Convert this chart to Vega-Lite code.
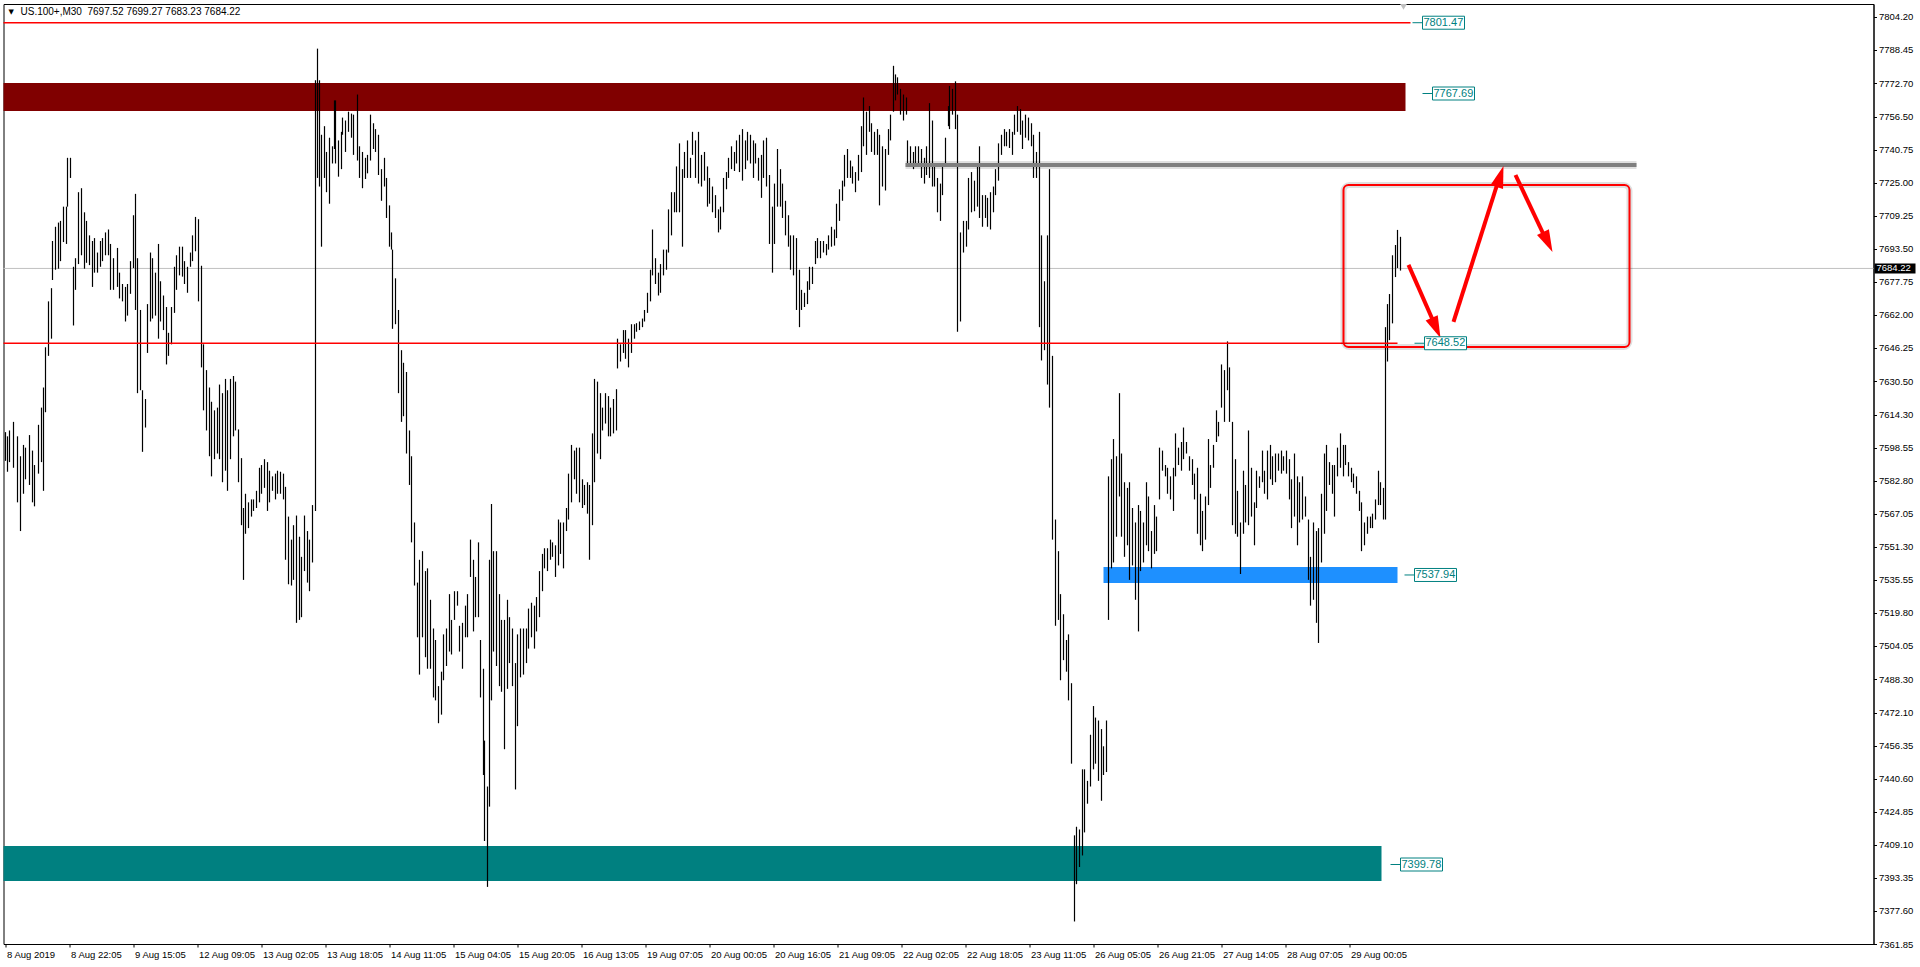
{
"$schema":"https://vega.github.io/schema/vega-lite/v6.json",
"width":1870,"height":940,
"autosize":{"type":"none"},
"padding":{"left":3.5,"top":4,"right":46.5,"bottom":23},
"background":"white",
"config":{"view":{"stroke":"#000000","strokeWidth":1},"font":"Liberation Sans",
 "axis":{"labelOverlap":false,"labelFlush":false,"grid":false,"title":null,"labelFont":"Liberation Sans","labelFontSize":9.5,"labelColor":"#000000","tickColor":"#000000","tickSize":3,"domainColor":"#000000","tickCount":200},
 "axisY":{"labelOverlap":false,"labelPadding":2},
 "axisX":{"labelOverlap":false,"labelAlign":"left","labelBaseline":"top","labelPadding":2,"labelOffset":1}},
"datasets":{
"bars":[
{"i":0,"h":7606.1,"l":7592.4},{"i":1.1,"h":7604.1,"l":7587.2},{"i":2.4,"h":7606.9,"l":7591.8},{"i":4.2,"h":7611.0,"l":7589.1},{"i":6.0,"h":7604.1,"l":7572.6},{"i":7.8,"h":7594.6,"l":7558.9},{"i":9.1,"h":7600.0,"l":7576.7},{"i":10.4,"h":7598.7,"l":7583.6},{"i":12.2,"h":7604.7,"l":7580.9},{"i":13.6,"h":7597.3,"l":7572.6},{"i":14.9,"h":7590.4,"l":7570.7},{"i":16.7,"h":7609.6,"l":7586.3},{"i":18.0,"h":7617.8,"l":7591.8},{"i":19.4,"h":7627.4,"l":7578.1},{"i":20.3,"h":7646.6,"l":7615.6},{"i":21.6,"h":7668.5,"l":7642.5},{"i":23.0,"h":7674.8,"l":7650.7},{"i":23.8,"h":7697.3,"l":7678.7},{"i":25.2,"h":7704.1,"l":7683.6},{"i":26.5,"h":7706.1,"l":7684.1},{"i":27.9,"h":7706.9,"l":7687.7},{"i":29.2,"h":7713.7,"l":7696.8},{"i":30.5,"h":7713.7,"l":7695.9},{"i":31.4,"h":7737.0,"l":7713.7},{"i":32.8,"h":7737.0,"l":7727.4},{"i":34.3,"h":7685.0,"l":7657.0},{"i":35.4,"h":7689.1,"l":7674.0},{"i":36.8,"h":7720.6,"l":7686.3},{"i":38.1,"h":7722.5,"l":7690.5},{"i":39.5,"h":7711.0,"l":7684.1},{"i":40.8,"h":7706.9,"l":7686.9},{"i":42.1,"h":7700.0,"l":7685.8},{"i":43.5,"h":7697.3,"l":7675.4},{"i":44.8,"h":7698.7,"l":7682.2},{"i":46.2,"h":7691.8,"l":7682.2},{"i":47.5,"h":7697.3,"l":7685.0},{"i":48.8,"h":7698.7,"l":7687.7},{"i":50.2,"h":7701.4,"l":7690.5},{"i":51.5,"h":7702.8,"l":7690.5},{"i":52.9,"h":7695.9,"l":7674.0},{"i":54.2,"h":7689.1,"l":7674.0},{"i":56.0,"h":7694.0,"l":7675.4},{"i":57.3,"h":7682.2,"l":7669.9},{"i":58.7,"h":7676.8,"l":7668.5},{"i":60.0,"h":7675.4,"l":7658.9},{"i":61.3,"h":7676.8,"l":7661.7},{"i":62.7,"h":7687.7,"l":7672.1},{"i":64.0,"h":7709.6,"l":7684.4},{"i":65.1,"h":7719.8,"l":7664.4},{"i":66.3,"h":7689.1,"l":7624.7},{"i":67.6,"h":7664.4,"l":7626.1},{"i":68.9,"h":7626.1,"l":7596.7},{"i":70.3,"h":7621.9,"l":7608.3},{"i":71.2,"h":7667.2,"l":7643.9},{"i":72.5,"h":7691.8,"l":7658.9},{"i":73.8,"h":7689.1,"l":7660.3},{"i":75.2,"h":7682.2,"l":7661.7},{"i":76.5,"h":7695.9,"l":7650.7},{"i":77.9,"h":7678.1,"l":7658.9},{"i":79.2,"h":7671.3,"l":7654.8},{"i":80.5,"h":7665.8,"l":7638.4},{"i":81.9,"h":7653.5,"l":7642.5},{"i":83.2,"h":7665.8,"l":7648.0},{"i":84.6,"h":7685.0,"l":7663.0},{"i":85.9,"h":7690.5,"l":7674.0},{"i":87.2,"h":7694.6,"l":7680.9},{"i":88.6,"h":7694.6,"l":7680.3},{"i":89.9,"h":7687.7,"l":7676.8},{"i":91.3,"h":7685.0,"l":7672.6},{"i":92.6,"h":7691.8,"l":7685.0},{"i":93.9,"h":7700.0,"l":7687.7},{"i":95.3,"h":7708.8,"l":7692.4},{"i":96.6,"h":7707.7,"l":7668.5},{"i":98.0,"h":7685.5,"l":7637.0},{"i":99.3,"h":7648.0,"l":7616.5},{"i":100.6,"h":7635.7,"l":7606.9},{"i":102.0,"h":7627.4,"l":7594.6},{"i":103.3,"h":7620.6,"l":7585.0},{"i":104.6,"h":7616.5,"l":7593.2},{"i":106.0,"h":7617.8,"l":7595.9},{"i":107.3,"h":7628.8,"l":7593.2},{"i":108.7,"h":7624.7,"l":7582.2},{"i":110.0,"h":7631.5,"l":7587.7},{"i":111.3,"h":7626.1,"l":7578.1},{"i":112.7,"h":7631.5,"l":7593.2},{"i":114.0,"h":7632.9,"l":7604.1},{"i":115.4,"h":7630.2,"l":7606.9},{"i":116.7,"h":7607.4,"l":7582.2},{"i":118.0,"h":7593.7,"l":7561.7},{"i":119.2,"h":7569.9,"l":7535.6},{"i":120.3,"h":7576.7,"l":7557.6},{"i":121.6,"h":7572.6,"l":7560.3},{"i":123.0,"h":7574.0,"l":7565.8},{"i":124.3,"h":7574.0,"l":7568.5},{"i":125.6,"h":7578.1,"l":7569.9},{"i":127.0,"h":7589.1,"l":7572.6},{"i":128.3,"h":7590.4,"l":7576.7},{"i":129.6,"h":7593.2,"l":7579.5},{"i":131.0,"h":7591.8,"l":7568.5},{"i":132.3,"h":7587.7,"l":7572.6},{"i":133.7,"h":7585.0,"l":7578.1},{"i":135.0,"h":7586.3,"l":7574.0},{"i":136.3,"h":7587.7,"l":7576.7},{"i":137.7,"h":7587.2,"l":7576.7},{"i":139.0,"h":7586.3,"l":7574.0},{"i":140.4,"h":7580.0,"l":7545.2},{"i":141.7,"h":7565.8,"l":7533.5},{"i":143.0,"h":7554.8,"l":7532.9},{"i":144.4,"h":7561.7,"l":7535.6},{"i":145.7,"h":7566.3,"l":7515.1},{"i":147.1,"h":7556.2,"l":7516.5},{"i":148.4,"h":7546.6,"l":7517.8},{"i":149.7,"h":7566.3,"l":7539.8},{"i":151.1,"h":7558.9,"l":7534.3},{"i":152.4,"h":7554.8,"l":7530.2},{"i":153.8,"h":7571.3,"l":7543.9},{"i":155.1,"h":7774.0,"l":7568.5},{"i":156.2,"h":7789.1,"l":7727.4},{"i":157.3,"h":7774.0,"l":7723.3},{"i":158.2,"h":7748.0,"l":7694.6},{"i":159.6,"h":7752.1,"l":7727.4},{"i":160.9,"h":7739.8,"l":7720.6},{"i":162.2,"h":7746.6,"l":7715.1},{"i":163.6,"h":7742.5,"l":7734.3},{"i":164.5,"h":7764.4,"l":7741.2},{"i":165.4,"h":7764.4,"l":7734.3},{"i":166.7,"h":7745.3,"l":7728.0},{"i":168.0,"h":7749.4,"l":7731.6},{"i":168.9,"h":7756.2,"l":7748.0},{"i":170.3,"h":7754.8,"l":7739.8},{"i":171.6,"h":7759.0,"l":7749.4},{"i":173.0,"h":7758.1,"l":7746.6},{"i":174.3,"h":7757.6,"l":7738.4},{"i":176.1,"h":7767.2,"l":7735.7},{"i":177.4,"h":7742.5,"l":7727.4},{"i":178.8,"h":7739.8,"l":7722.5},{"i":180.1,"h":7737.0,"l":7726.9},{"i":181.4,"h":7738.4,"l":7729.6},{"i":182.8,"h":7757.6,"l":7735.7},{"i":184.1,"h":7753.5,"l":7741.2},{"i":185.4,"h":7750.7,"l":7739.8},{"i":186.8,"h":7748.0,"l":7728.8},{"i":188.1,"h":7731.6,"l":7716.5},{"i":189.5,"h":7737.0,"l":7723.3},{"i":190.8,"h":7727.4,"l":7708.3},{"i":192.1,"h":7714.3,"l":7694.6},{"i":193.0,"h":7701.4,"l":7693.2},{"i":193.9,"h":7693.2,"l":7655.4},{"i":195.3,"h":7679.5,"l":7657.6},{"i":196.6,"h":7664.4,"l":7624.7},{"i":198.0,"h":7645.2,"l":7611.0},{"i":199.3,"h":7639.2,"l":7613.7},{"i":200.6,"h":7634.8,"l":7595.9},{"i":202.0,"h":7606.9,"l":7580.9},{"i":203.3,"h":7594.6,"l":7553.5},{"i":204.6,"h":7563.0,"l":7532.9},{"i":206.0,"h":7534.3,"l":7508.2},{"i":207.3,"h":7545.2,"l":7490.4},{"i":208.7,"h":7549.3,"l":7508.2},{"i":210.0,"h":7539.8,"l":7498.7},{"i":211.3,"h":7541.1,"l":7493.2},{"i":212.7,"h":7526.1,"l":7493.2},{"i":214.0,"h":7512.4,"l":7479.5},{"i":215.4,"h":7506.9,"l":7478.1},{"i":216.7,"h":7484.9,"l":7467.2},{"i":218.0,"h":7491.8,"l":7471.3},{"i":219.4,"h":7509.6,"l":7487.7},{"i":220.7,"h":7512.4,"l":7494.5},{"i":222.1,"h":7528.8,"l":7501.4},{"i":223.4,"h":7516.5,"l":7500.0},{"i":224.7,"h":7530.2,"l":7516.5},{"i":226.1,"h":7530.2,"l":7523.3},{"i":227.4,"h":7513.7,"l":7501.4},{"i":228.8,"h":7515.1,"l":7493.2},{"i":230.1,"h":7523.3,"l":7508.2},{"i":231.4,"h":7528.8,"l":7508.2},{"i":232.8,"h":7554.8,"l":7537.0},{"i":234.1,"h":7545.2,"l":7511.0},{"i":235.4,"h":7537.0,"l":7517.8},{"i":236.8,"h":7553.5,"l":7517.8},{"i":237.7,"h":7506.9,"l":7479.5},{"i":239.0,"h":7493.2,"l":7442.5},{"i":239.9,"h":7458.9,"l":7411.0},{"i":241.3,"h":7437.0,"l":7389.1},{"i":242.1,"h":7545.2,"l":7427.4},{"i":243.3,"h":7571.8,"l":7478.1},{"i":244.4,"h":7549.3,"l":7501.4},{"i":245.7,"h":7549.3,"l":7494.5},{"i":247.1,"h":7528.8,"l":7484.9},{"i":248.4,"h":7516.5,"l":7482.2},{"i":249.7,"h":7516.5,"l":7454.8},{"i":251.1,"h":7526.1,"l":7483.6},{"i":252.4,"h":7517.8,"l":7495.9},{"i":253.8,"h":7512.4,"l":7484.9},{"i":255.1,"h":7495.9,"l":7435.6},{"i":256.4,"h":7509.6,"l":7465.8},{"i":257.8,"h":7512.4,"l":7489.1},{"i":259.1,"h":7512.4,"l":7490.4},{"i":260.5,"h":7512.4,"l":7495.9},{"i":261.8,"h":7521.9,"l":7502.8},{"i":263.1,"h":7524.7,"l":7508.2},{"i":264.5,"h":7523.3,"l":7502.8},{"i":265.8,"h":7527.4,"l":7511.0},{"i":267.1,"h":7539.8,"l":7517.8},{"i":268.5,"h":7548.0,"l":7530.2},{"i":269.8,"h":7550.7,"l":7541.1},{"i":271.2,"h":7550.7,"l":7539.8},{"i":272.5,"h":7554.8,"l":7545.2},{"i":273.8,"h":7553.5,"l":7546.6},{"i":275.2,"h":7552.1,"l":7537.0},{"i":276.5,"h":7564.4,"l":7542.5},{"i":277.9,"h":7563.0,"l":7548.0},{"i":279.2,"h":7563.0,"l":7541.1},{"i":280.5,"h":7569.9,"l":7558.9},{"i":281.9,"h":7586.3,"l":7564.4},{"i":283.2,"h":7600.0,"l":7572.6},{"i":284.6,"h":7597.3,"l":7583.6},{"i":285.9,"h":7598.7,"l":7576.7},{"i":287.2,"h":7598.7,"l":7572.6},{"i":288.6,"h":7583.6,"l":7569.9},{"i":289.9,"h":7580.9,"l":7571.3},{"i":291.3,"h":7582.2,"l":7567.2},{"i":292.1,"h":7580.9,"l":7545.2},{"i":293.5,"h":7605.5,"l":7561.7},{"i":294.8,"h":7631.5,"l":7582.2},{"i":296.2,"h":7630.2,"l":7595.9},{"i":297.5,"h":7624.7,"l":7593.2},{"i":298.8,"h":7617.8,"l":7606.9},{"i":300.2,"h":7624.7,"l":7610.2},{"i":301.5,"h":7623.3,"l":7604.1},{"i":302.9,"h":7617.8,"l":7604.1},{"i":304.2,"h":7621.9,"l":7605.5},{"i":305.5,"h":7626.6,"l":7606.9},{"i":306.4,"h":7650.7,"l":7636.5},{"i":307.8,"h":7648.0,"l":7639.8},{"i":309.1,"h":7654.8,"l":7643.9},{"i":310.4,"h":7654.8,"l":7641.1},{"i":311.8,"h":7650.7,"l":7637.0},{"i":313.1,"h":7657.6,"l":7643.9},{"i":314.5,"h":7657.6,"l":7650.7},{"i":315.8,"h":7658.1,"l":7654.0},{"i":317.1,"h":7658.9,"l":7654.8},{"i":318.5,"h":7660.3,"l":7656.2},{"i":319.8,"h":7664.4,"l":7658.9},{"i":321.2,"h":7672.6,"l":7663.0},{"i":322.5,"h":7683.6,"l":7668.5},{"i":323.8,"h":7702.8,"l":7680.9},{"i":325.2,"h":7689.1,"l":7676.8},{"i":326.5,"h":7682.2,"l":7671.3},{"i":327.9,"h":7686.3,"l":7672.6},{"i":329.2,"h":7693.2,"l":7680.9},{"i":330.5,"h":7693.2,"l":7683.6},{"i":331.9,"h":7712.4,"l":7691.8},{"i":333.2,"h":7720.6,"l":7700.0},{"i":334.6,"h":7720.6,"l":7711.0},{"i":335.9,"h":7732.9,"l":7711.0},{"i":337.2,"h":7743.9,"l":7711.0},{"i":338.6,"h":7731.6,"l":7694.6},{"i":339.9,"h":7739.8,"l":7727.4},{"i":341.3,"h":7745.3,"l":7727.4},{"i":342.6,"h":7737.0,"l":7727.4},{"i":343.9,"h":7749.4,"l":7738.4},{"i":345.3,"h":7745.3,"l":7727.4},{"i":346.6,"h":7749.4,"l":7724.7},
{"i":348.4,"h":7738.4,"l":7723.3},{"i":349.7,"h":7739.8,"l":7726.1},{"i":351.1,"h":7732.9,"l":7713.7},{"i":352.4,"h":7727.4,"l":7715.1},{"i":353.8,"h":7723.3,"l":7711.0},{"i":355.1,"h":7719.2,"l":7708.3},{"i":356.5,"h":7712.4,"l":7701.4},{"i":357.8,"h":7713.7,"l":7702.8},{"i":359.2,"h":7727.4,"l":7711.0},{"i":360.5,"h":7730.2,"l":7722.0},{"i":361.9,"h":7737.0,"l":7727.4},{"i":363.2,"h":7742.5,"l":7731.6},{"i":364.6,"h":7739.8,"l":7730.7},{"i":365.9,"h":7745.3,"l":7734.3},{"i":367.3,"h":7748.0,"l":7730.2},{"i":368.6,"h":7750.7,"l":7726.1},{"i":370.0,"h":7745.3,"l":7731.6},{"i":371.3,"h":7749.4,"l":7735.7},{"i":372.7,"h":7748.0,"l":7734.3},{"i":374.0,"h":7745.3,"l":7727.4},{"i":375.4,"h":7743.9,"l":7734.3},{"i":376.7,"h":7737.0,"l":7726.1},{"i":378.1,"h":7738.4,"l":7717.9},{"i":379.4,"h":7745.3,"l":7727.4},{"i":380.8,"h":7746.6,"l":7723.3},{"i":382.1,"h":7728.8,"l":7695.9},{"i":383.5,"h":7713.7,"l":7682.2},{"i":384.8,"h":7724.7,"l":7695.9},{"i":386.2,"h":7741.2,"l":7713.7},{"i":387.5,"h":7731.6,"l":7713.7},{"i":388.9,"h":7724.7,"l":7708.3},{"i":390.2,"h":7716.5,"l":7700.0},{"i":391.6,"h":7709.6,"l":7694.6},{"i":392.9,"h":7700.0,"l":7683.6},{"i":394.3,"h":7700.0,"l":7680.9},{"i":395.6,"h":7698.7,"l":7664.4},{"i":397.0,"h":7683.6,"l":7656.2},{"i":398.3,"h":7674.0,"l":7664.4},{"i":399.7,"h":7672.6,"l":7665.8},{"i":401.0,"h":7678.1,"l":7667.2},{"i":402.4,"h":7685.0,"l":7674.0},{"i":403.7,"h":7685.0,"l":7676.8},{"i":405.1,"h":7697.3,"l":7686.3},{"i":406.4,"h":7698.7,"l":7689.1},{"i":407.8,"h":7697.3,"l":7689.1},{"i":409.1,"h":7697.3,"l":7691.8},{"i":410.5,"h":7695.9,"l":7690.5},{"i":411.8,"h":7700.0,"l":7693.2},{"i":413.1,"h":7704.1,"l":7694.6},{"i":414.5,"h":7702.8,"l":7695.1},{"i":415.8,"h":7715.1,"l":7698.7},{"i":417.2,"h":7722.0,"l":7706.9},{"i":418.5,"h":7726.1,"l":7716.5},{"i":419.9,"h":7738.4,"l":7723.3},{"i":421.2,"h":7741.2,"l":7727.4},{"i":422.6,"h":7735.7,"l":7727.4},{"i":423.9,"h":7732.9,"l":7724.7},{"i":425.3,"h":7730.2,"l":7720.6},{"i":426.6,"h":7738.4,"l":7726.1},{"i":428.0,"h":7752.1,"l":7730.2},{"i":429.3,"h":7765.8,"l":7742.5},{"i":430.7,"h":7759.0,"l":7738.4},{"i":432.0,"h":7761.7,"l":7749.4},{"i":433.4,"h":7753.5,"l":7739.8},{"i":434.7,"h":7749.4,"l":7738.4},{"i":436.1,"h":7750.7,"l":7738.4},{"i":437.4,"h":7748.0,"l":7714.3},{"i":438.8,"h":7742.5,"l":7723.3},{"i":440.1,"h":7741.2,"l":7721.4},{"i":441.5,"h":7750.7,"l":7738.4},{"i":442.8,"h":7757.6,"l":7745.3},{"i":444.2,"h":7780.9,"l":7759.0},{"i":445.1,"h":7776.8,"l":7764.4},{"i":446.4,"h":7775.4,"l":7767.2},{"i":447.8,"h":7769.9,"l":7757.6},{"i":449.1,"h":7767.2,"l":7754.8},{"i":450.5,"h":7765.8,"l":7757.6},{"i":451.4,"h":7745.3,"l":7734.3},{"i":452.7,"h":7742.5,"l":7734.3},{"i":454.1,"h":7739.8,"l":7731.6},{"i":455.4,"h":7742.5,"l":7734.3},{"i":456.8,"h":7742.5,"l":7732.9},{"i":458.1,"h":7741.2,"l":7727.4},{"i":459.5,"h":7737.0,"l":7724.7},{"i":460.8,"h":7742.5,"l":7728.8},{"i":462.2,"h":7763.1,"l":7727.4},{"i":463.5,"h":7754.8,"l":7723.3},{"i":464.9,"h":7734.3,"l":7723.3},{"i":466.2,"h":7727.4,"l":7711.0},{"i":467.6,"h":7724.7,"l":7706.9},{"i":468.9,"h":7734.3,"l":7719.2},{"i":470.3,"h":7746.6,"l":7734.3},{"i":471.6,"h":7761.7,"l":7752.1},{"i":472.5,"h":7771.3,"l":7750.7},{"i":473.9,"h":7769.9,"l":7757.6},{"i":475.2,"h":7773.5,"l":7750.7},{"i":476.5,"h":7757.6,"l":7654.0},{"i":477.9,"h":7701.4,"l":7658.9},{"i":479.2,"h":7706.9,"l":7691.8},{"i":480.6,"h":7706.9,"l":7694.6},{"i":481.9,"h":7727.4,"l":7702.8},{"i":483.3,"h":7730.2,"l":7711.0},{"i":484.6,"h":7726.1,"l":7711.5},{"i":486.0,"h":7732.9,"l":7713.7},{"i":487.3,"h":7742.5,"l":7708.3},{"i":488.7,"h":7719.2,"l":7704.1},{"i":490.0,"h":7719.2,"l":7708.3},{"i":491.4,"h":7717.9,"l":7704.1},{"i":492.7,"h":7720.6,"l":7702.8},{"i":494.1,"h":7723.3,"l":7711.0},{"i":495.4,"h":7731.6,"l":7719.2},{"i":496.8,"h":7743.9,"l":7726.1},{"i":498.1,"h":7748.0,"l":7738.4},{"i":499.5,"h":7750.7,"l":7742.5},{"i":500.8,"h":7749.4,"l":7742.5},{"i":502.2,"h":7750.7,"l":7741.7},{"i":503.5,"h":7749.4,"l":7738.4},{"i":504.9,"h":7757.6,"l":7748.0},{"i":506.2,"h":7761.7,"l":7749.4},{"i":507.6,"h":7760.3,"l":7748.0},{"i":508.9,"h":7754.8,"l":7741.2},{"i":510.3,"h":7757.6,"l":7746.6},{"i":511.6,"h":7756.2,"l":7745.3},{"i":513.0,"h":7753.5,"l":7742.5},{"i":514.3,"h":7748.0,"l":7727.4},{"i":515.7,"h":7739.8,"l":7727.4},{"i":517.0,"h":7749.4,"l":7656.2},{"i":518.4,"h":7700.0,"l":7640.3},{"i":519.7,"h":7678.1,"l":7645.2},{"i":521.1,"h":7700.0,"l":7628.8},{"i":522.4,"h":7731.6,"l":7617.8},{"i":523.8,"h":7642.5,"l":7554.8},{"i":525.1,"h":7564.4,"l":7513.7},{"i":526.5,"h":7549.3,"l":7516.5},{"i":527.8,"h":7528.8,"l":7487.7},{"i":529.2,"h":7519.2,"l":7497.3},{"i":530.5,"h":7506.9,"l":7491.8},{"i":531.9,"h":7509.6,"l":7478.1},{"i":533.2,"h":7486.3,"l":7447.9},{"i":534.5,"h":7413.7,"l":7372.6},{"i":535.9,"h":7417.8,"l":7390.4},{"i":537.2,"h":7416.5,"l":7398.6},{"i":538.6,"h":7445.2,"l":7404.1},{"i":539.9,"h":7445.2,"l":7415.1},{"i":541.3,"h":7439.7,"l":7428.8},{"i":542.6,"h":7461.7,"l":7437.0},{"i":544.0,"h":7475.4,"l":7445.2},{"i":545.3,"h":7469.9,"l":7447.9},{"i":546.7,"h":7468.5,"l":7439.7},{"i":548.0,"h":7464.4,"l":7430.2},{"i":549.4,"h":7456.2,"l":7442.5},{"i":550.7,"h":7468.5,"l":7443.9},{"i":551.6,"h":7585.0,"l":7516.5},{"i":553.0,"h":7593.2,"l":7541.1},{"i":554.3,"h":7602.8,"l":7543.9},{"i":555.7,"h":7594.6,"l":7556.2},{"i":557.0,"h":7624.7,"l":7575.4},{"i":558.4,"h":7595.9,"l":7556.2},{"i":559.7,"h":7582.2,"l":7546.6},{"i":561.1,"h":7579.5,"l":7552.1},{"i":562.4,"h":7582.2,"l":7535.6},{"i":563.8,"h":7569.9,"l":7542.5},{"i":565.1,"h":7563.0,"l":7526.1},{"i":566.5,"h":7571.3,"l":7511.0},{"i":567.8,"h":7568.5,"l":7539.8},{"i":569.2,"h":7563.0,"l":7543.9},{"i":570.5,"h":7582.2,"l":7552.1},{"i":571.9,"h":7575.4,"l":7549.3},{"i":573.2,"h":7558.9,"l":7541.1},{"i":574.6,"h":7571.3,"l":7548.0},{"i":575.9,"h":7565.8,"l":7549.3},{"i":577.3,"h":7598.7,"l":7574.0},{"i":578.6,"h":7597.3,"l":7587.7},{"i":580.0,"h":7590.4,"l":7585.0},{"i":581.3,"h":7589.1,"l":7576.7},{"i":582.7,"h":7585.0,"l":7574.0},{"i":584.0,"h":7589.1,"l":7568.5},{"i":585.4,"h":7605.5,"l":7585.0},{"i":586.7,"h":7598.7,"l":7590.4},{"i":588.1,"h":7601.4,"l":7587.7},{"i":589.4,"h":7608.3,"l":7593.2},{"i":590.8,"h":7601.4,"l":7595.9},{"i":592.1,"h":7594.6,"l":7587.7},{"i":593.5,"h":7593.2,"l":7580.9},{"i":594.8,"h":7586.3,"l":7574.0},{"i":596.2,"h":7589.1,"l":7557.6},{"i":597.5,"h":7576.7,"l":7552.1},{"i":598.9,"h":7568.5,"l":7549.3},{"i":600.2,"h":7575.4,"l":7554.8},{"i":601.5,"h":7602.8,"l":7571.3},{"i":602.9,"h":7590.4,"l":7579.5},{"i":604.2,"h":7600.0,"l":7589.1},{"i":605.6,"h":7616.5,"l":7601.4},{"i":606.9,"h":7611.0,"l":7604.1},{"i":608.3,"h":7638.4,"l":7617.8},{"i":609.6,"h":7635.7,"l":7611.0},{"i":611.0,"h":7649.4,"l":7626.1},{"i":612.3,"h":7637.0,"l":7611.0},{"i":613.7,"h":7611.0,"l":7561.7},{"i":615.0,"h":7593.2,"l":7557.6},{"i":616.4,"h":7578.1,"l":7556.2},{"i":617.7,"h":7563.0,"l":7538.4},{"i":619.1,"h":7587.7,"l":7557.6},{"i":620.4,"h":7580.9,"l":7563.0},{"i":621.8,"h":7606.9,"l":7561.7},{"i":623.1,"h":7589.1,"l":7565.8},{"i":624.5,"h":7572.6,"l":7552.1},{"i":625.8,"h":7587.7,"l":7569.9},{"i":627.2,"h":7585.0,"l":7579.5},{"i":628.5,"h":7597.3,"l":7582.2},{"i":629.9,"h":7587.7,"l":7576.7},{"i":631.2,"h":7597.3,"l":7574.0},{"i":632.6,"h":7600.0,"l":7583.6},{"i":633.9,"h":7594.6,"l":7580.9},{"i":635.3,"h":7595.9,"l":7582.2},{"i":636.6,"h":7595.9,"l":7587.7},{"i":638.0,"h":7597.3,"l":7586.3},{"i":639.3,"h":7594.6,"l":7587.7},{"i":640.7,"h":7597.3,"l":7586.3},{"i":642.0,"h":7593.2,"l":7574.0},{"i":643.4,"h":7583.6,"l":7560.3},{"i":644.7,"h":7595.9,"l":7565.8},{"i":646.1,"h":7585.0,"l":7552.1},{"i":647.4,"h":7582.2,"l":7563.0},{"i":648.8,"h":7585.0,"l":7564.4},{"i":650.1,"h":7575.4,"l":7565.8},{"i":651.5,"h":7564.4,"l":7535.6},{"i":652.8,"h":7546.6,"l":7523.3},{"i":654.2,"h":7563.0,"l":7526.1},{"i":655.5,"h":7558.9,"l":7515.1},{"i":656.9,"h":7560.3,"l":7505.5},{"i":658.2,"h":7576.7,"l":7543.9},{"i":659.6,"h":7595.9,"l":7557.6},{"i":660.9,"h":7600.0,"l":7568.5},{"i":662.2,"h":7591.8,"l":7580.9},{"i":663.6,"h":7590.4,"l":7576.7},{"i":664.9,"h":7590.4,"l":7565.8},{"i":666.3,"h":7598.7,"l":7585.0},{"i":667.6,"h":7605.5,"l":7589.1},{"i":669.0,"h":7600.0,"l":7585.0},{"i":670.3,"h":7600.0,"l":7590.4},{"i":671.7,"h":7591.8,"l":7585.0},{"i":673.0,"h":7589.1,"l":7582.2},{"i":674.4,"h":7586.3,"l":7579.5},{"i":675.7,"h":7585.0,"l":7576.7},{"i":677.1,"h":7578.1,"l":7568.5},{"i":678.4,"h":7572.6,"l":7549.3},{"i":679.8,"h":7563.0,"l":7552.1},{"i":681.1,"h":7565.8,"l":7557.6},{"i":682.5,"h":7565.8,"l":7560.3},{"i":683.8,"h":7567.2,"l":7560.3},{"i":685.2,"h":7574.0,"l":7564.4},{"i":686.5,"h":7587.7,"l":7571.3},{"i":687.9,"h":7582.2,"l":7571.3},{"i":689.2,"h":7579.5,"l":7564.4},{"i":690.1,"h":7656.2,"l":7564.4},{"i":691.0,"h":7667.2,"l":7639.8},{"i":692.4,"h":7672.0,"l":7650.0},{"i":693.7,"h":7690.5,"l":7658.0},{"i":695.1,"h":7695.4,"l":7680.1},{"i":696.4,"h":7702.6,"l":7684.4},{"i":697.7,"h":7699.3,"l":7683.2}
],
"zones":[
{"zone":"supply","i0":-0.75,"i1":700,"lo":7759.35,"hi":7772.7},
{"zone":"support","i0":549,"i1":696,"lo":7534.1,"hi":7541.75},
{"zone":"demand","i0":-0.75,"i1":688,"lo":7391.9,"hi":7408.6}
],
"levels":[{"p":7801.47,"i0":-0.75,"i1":702.5},{"p":7648.52,"i0":-0.75,"i1":696}],
"tags":[{"p":7801.47,"d0":703.5,"b0":708.5},{"p":7767.69,"d0":708.5,"b0":713.5},{"p":7648.52,"d0":704.5,"b0":709.5},{"p":7537.94,"d0":699.5,"b0":704.5},{"p":7399.78,"d0":692.5,"b0":697.5}],
"arrows":[
{"x1":701.5,"y1":7685.9,"x2":714.5,"y2":7657.7,"tx":717.5,"ty":7651.0,"a":156.4},
{"x1":724,"y1":7658.7,"x2":746.7,"y2":7726.3,"tx":749,"ty":7733.1,"a":17.8},
{"x1":755,"y1":7728.8,"x2":770.3,"y2":7698.5,"tx":773.5,"ty":7692.1,"a":154.3}
]
},
"layer":[
{"data":{"values":[{}]},"mark":{"type":"rule","color":"#c0c0c0","strokeWidth":1},
 "encoding":{"x":{"datum":-0.75,"type":"quantitative","scale":{"domain":[-0.75,934.25],"round":true,"nice":false,"zero":false},
   "axis":{"orient":"bottom","values":[0,32,64,96,128,160,192,224,256,288,320,352,384,416,448,480,512,544,576,608,640,672],"tickCount":200,
     "labelExpr":"['8 Aug 2019','8 Aug 22:05','9 Aug 15:05','12 Aug 09:05','13 Aug 02:05','13 Aug 18:05','14 Aug 11:05','15 Aug 04:05','15 Aug 20:05','16 Aug 13:05','19 Aug 07:05','20 Aug 00:05','20 Aug 16:05','21 Aug 09:05','22 Aug 02:05','22 Aug 18:05','23 Aug 11:05','26 Aug 05:05','26 Aug 21:05','27 Aug 14:05','28 Aug 07:05','29 Aug 00:05'][round(datum.value/32)]",
     "labelOverlap":false,"labelFlush":false}},
  "x2":{"datum":934.25},
  "y":{"datum":7684.22,"type":"quantitative","scale":{"domain":[7361.85,7810.4],"nice":false,"zero":false},
   "axis":{"orient":"right","values":[7804.2,7788.45,7772.7,7756.5,7740.75,7725,7709.25,7693.5,7677.75,7662,7646.25,7630.5,7614.3,7598.55,7582.8,7567.05,7551.3,7535.55,7519.8,7504.05,7488.3,7472.1,7456.35,7440.6,7424.85,7409.1,7393.35,7377.6,7361.85],"tickCount":200,
     "format":".2f","labelOverlap":false,"labelFlush":false}}}},
{"data":{"name":"zones"},"mark":{"type":"rect"},
 "encoding":{"x":{"field":"i0","type":"quantitative"},"x2":{"field":"i1"},"y":{"field":"hi","type":"quantitative"},"y2":{"field":"lo"},
  "color":{"field":"zone","type":"nominal","scale":{"domain":["supply","support","demand"],"range":["#800000","#1e90ff","#008080"]},"legend":null}}},
{"data":{"name":"bars"},"mark":{"type":"rule","color":"#000000","strokeWidth":1.2},
 "encoding":{"x":{"field":"i","type":"quantitative"},"y":{"field":"h","type":"quantitative"},"y2":{"field":"l"}}},
{"data":{"name":"levels"},"mark":{"type":"rule","color":"#ff0000","strokeWidth":1.5},
 "encoding":{"x":{"field":"i0","type":"quantitative"},"x2":{"field":"i1"},"y":{"field":"p","type":"quantitative"}}},
{"data":{"values":[{"p":7733.6,"i0":450,"i1":815.5}]},"mark":{"type":"rule","color":"#000000","opacity":0.12,"strokeWidth":8},
 "encoding":{"x":{"field":"i0","type":"quantitative"},"x2":{"field":"i1"},"y":{"field":"p","type":"quantitative"}}},
{"data":{"values":[{"p":7733.6,"i0":450,"i1":815.5}]},"mark":{"type":"rule","color":"#7f7f7f","strokeWidth":4},
 "encoding":{"x":{"field":"i0","type":"quantitative"},"x2":{"field":"i1"},"y":{"field":"p","type":"quantitative"}}},
{"data":{"values":[{"i0":669,"i1":812,"lo":7646.7,"hi":7724.0}]},"mark":{"type":"rect","fill":"transparent","stroke":"#000000","strokeOpacity":0.12,"strokeWidth":6,"cornerRadius":6},
 "encoding":{"x":{"field":"i0","type":"quantitative"},"x2":{"field":"i1"},"y":{"field":"hi","type":"quantitative"},"y2":{"field":"lo"}}},
{"data":{"values":[{"i0":669,"i1":812,"lo":7646.7,"hi":7724.0}]},"mark":{"type":"rect","fill":"transparent","stroke":"#ff0000","strokeWidth":2,"cornerRadius":5},
 "encoding":{"x":{"field":"i0","type":"quantitative"},"x2":{"field":"i1"},"y":{"field":"hi","type":"quantitative"},"y2":{"field":"lo"}}},
{"data":{"name":"arrows"},"mark":{"type":"rule","color":"#ff0000","strokeWidth":4,"strokeCap":"butt"},
 "encoding":{"x":{"field":"x1","type":"quantitative"},"y":{"field":"y1","type":"quantitative"},"x2":{"field":"x2"},"y2":{"field":"y2"}}},
{"data":{"name":"arrows"},"mark":{"type":"point","shape":"M0,0L0.6,2L-0.6,2Z","filled":true,"color":"#ff0000","opacity":1,"size":484,"strokeWidth":0},
 "encoding":{"x":{"field":"tx","type":"quantitative"},"y":{"field":"ty","type":"quantitative"},"angle":{"field":"a","type":"quantitative","scale":null}}},
{"data":{"name":"tags"},"mark":{"type":"rule","color":"#008080","strokeWidth":1},
 "encoding":{"x":{"field":"d0","type":"quantitative"},"x2":{"field":"b0"},"y":{"field":"p","type":"quantitative"}}},
{"data":{"name":"tags"},"mark":{"type":"point","shape":"M0,-0.65H4.2V0.65H0Z","filled":false,"fill":"#ffffff","fillOpacity":1,"stroke":"#008080","strokeWidth":1,"opacity":1,"size":400},
 "encoding":{"x":{"field":"b0","type":"quantitative"},"y":{"field":"p","type":"quantitative"}}},
{"data":{"name":"tags"},"mark":{"type":"text","align":"left","baseline":"middle","dx":1,"font":"Liberation Sans","fontSize":11,"color":"#008080"},
 "encoding":{"x":{"field":"b0","type":"quantitative"},"y":{"field":"p","type":"quantitative"},"text":{"field":"p","type":"quantitative","format":".2f"}}},
{"data":{"values":[{"p":7684.22}]},"mark":{"type":"point","shape":"M0,-0.5H4.1V0.5H0Z","filled":true,"color":"#000000","opacity":1,"size":400},
 "encoding":{"x":{"datum":935,"type":"quantitative"},"y":{"field":"p","type":"quantitative"}}},
{"data":{"values":[{"p":7684.22}]},"mark":{"type":"text","align":"left","baseline":"middle","dx":2,"font":"Liberation Sans","fontSize":9.5,"color":"#ffffff"},
 "encoding":{"x":{"datum":935,"type":"quantitative"},"y":{"field":"p","type":"quantitative"},"text":{"field":"p","type":"quantitative","format":".2f"}}},
{"data":{"values":[{}]},"mark":{"type":"point","shape":"triangle-down","filled":true,"color":"#c0c0c0","opacity":1,"size":45},
 "encoding":{"x":{"datum":699,"type":"quantitative"},"y":{"datum":7809.0,"type":"quantitative"}}},
{"data":{"values":[{}]},"mark":{"type":"text","text":"▼","align":"left","baseline":"middle","font":"DejaVu Sans","fontSize":7,"color":"#000000"},
 "encoding":{"x":{"datum":1.5,"type":"quantitative"},"y":{"datum":7806.6,"type":"quantitative"}}},
{"data":{"values":[{}]},"mark":{"type":"text","text":"US.100+,M30\u00a0\u00a07697.52 7699.27 7683.23 7684.22","align":"left","baseline":"middle","font":"Liberation Sans","fontSize":10,"color":"#000000"},
 "encoding":{"x":{"datum":7.5,"type":"quantitative"},"y":{"datum":7806.6,"type":"quantitative"}}}
]
}
